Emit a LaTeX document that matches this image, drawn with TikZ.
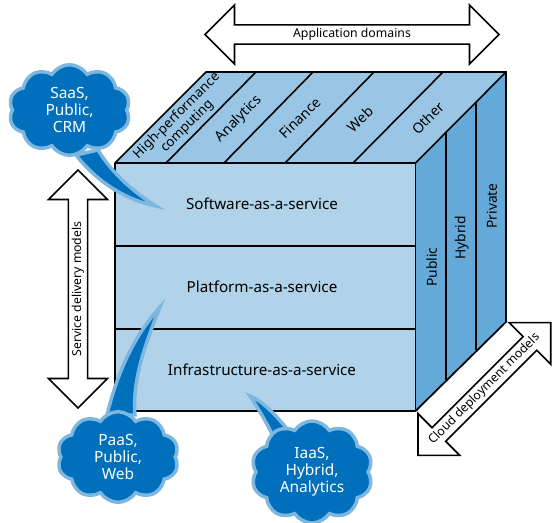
\documentclass[tikz,border=0pt]{standalone}
\usepackage{fontspec}
\setmainfont{Noto Sans}
\usetikzlibrary{shapes.arrows,shapes.symbols}
\definecolor{frontblue}{HTML}{B0D3EA}
\definecolor{topblue}{HTML}{9AC6E5}
\definecolor{sideblue}{HTML}{65A9D8}
\definecolor{clouddark}{HTML}{0070BC}
\definecolor{cloudlight}{HTML}{7DB7DF}
\begin{document}
\begin{tikzpicture}[
    x=0.75pt, y=-0.75pt,
    face/.style={draw=black, line width=1.3pt, line join=miter},
    divider/.style={draw=black, line width=1.2pt},
    label/.style={font=\fontsize{11.4}{13}\selectfont, inner sep=0pt, align=center},
    toplabel/.style={font=\fontsize{10.6}{11}\selectfont, inner sep=0pt, align=center, rotate=45},
    sidelabel/.style={font=\fontsize{10.4}{12}\selectfont, inner sep=0pt, rotate=90},
    bigarrow/.style={double arrow, draw=black, fill=white, line width=1.2pt, double arrow head extend=12.75pt, minimum width=44.25pt, inner sep=1pt, font=\fontsize{9.2}{11}\selectfont},
    puff/.style={cloud, cloud puffs=10, cloud puff arc=115, draw=cloudlight, fill=clouddark, line width=2.6pt, text=white, align=center, inner sep=0pt, minimum width=91pt, minimum height=68pt, font=\fontsize{11.6}{12.9}\selectfont},
    tail/.style={draw=cloudlight, fill=clouddark, line width=2.6pt, miter limit=20}
]
\useasboundingbox (0,0) rectangle (559,522);

% cube
\coordinate (FL) at (115,163);
\coordinate (FR) at (415.5,163);
\coordinate (BL) at (115,411);
\coordinate (BR) at (415.5,411);
\coordinate (TL) at (206,72);
\coordinate (TR) at (506,72);
\coordinate (SB) at (506,322);

\fill[frontblue] (FL) -- (FR) -- (BR) -- (BL) -- cycle;
\fill[topblue] (FL) -- (TL) -- (TR) -- (FR) -- cycle;
\fill[sideblue] (FR) -- (TR) -- (SB) -- (BR) -- cycle;

\coordinate (L1) at (115,246);
\coordinate (R1) at (415.5,246);
\coordinate (L2) at (115,329);
\coordinate (R2) at (415.5,329);
\draw[divider] (L1) -- (R1);
\draw[divider] (L2) -- (R2);

% top strips
\foreach \name/\a/\b in {a/166/256, b/224/313, c/285/374, d/353/443} {
    \coordinate (\name0) at (\a,163);
    \coordinate (\name1) at (\b,72);
    \draw[divider] (\name0) -- (\name1);
}

% side strips
\coordinate (P0) at (445.7,133);
\coordinate (P1) at (445.7,380);
\coordinate (Q0) at (475.7,103);
\coordinate (Q1) at (475.7,350);
\draw[divider] (P0) -- (P1);
\draw[divider] (Q0) -- (Q1);

\draw[face] (BL) -- (FL) -- (TL) -- (TR) -- (SB) -- (BR) -- cycle;
\draw[divider] (FL) -- (FR) -- (TR);
\draw[divider] (FR) -- (BR);

\node[label] (soft) at (262,204) {Software-as-a-service};
\node[label] (plat) at (262,287) {Platform-as-a-service};
\node[label] (infra) at (262,370) {Infrastructure-as-a-service};

\node[toplabel, font=\fontsize{10}{11}\selectfont] (hpc) at (182,121) {High-performance\\computing};
\node[toplabel] (anal) at (239,119) {Analytics};
\node[toplabel] (fin) at (300,118) {Finance};
\node[toplabel] (web) at (360,119) {Web};
\node[toplabel] (oth) at (428,118) {Other};

\node[sidelabel] (pub) at (431.7,267) {Public};
\node[sidelabel] (hyb) at (461.7,238) {Hybrid};
\node[sidelabel] (pri) at (491.7,206) {Private};

% big arrows
\node[bigarrow, minimum height=220.5pt] (apps) at (352,34.5) {Application domains};
\node[bigarrow, minimum height=178.5pt, rotate=90] (models) at (78,289) {Service delivery models};
\node[bigarrow, minimum height=140.8pt, rotate=45] (deploy) at (484.4,389) {Cloud deployment models};

% callouts
\coordinate (tip1) at (156,206);
\coordinate (tip2) at (160,307);
\coordinate (tip3) at (250,396);

\draw[tail] (76,155) .. controls (95,180) and (125,200) .. (tip1) .. controls (130,190) and (110,170) .. (98,150) -- cycle;
\draw[tail] (107,415) .. controls (118,370) and (135,335) .. (tip2) .. controls (145,345) and (132,380) .. (135,415) -- cycle;
\draw[tail] (276,442) .. controls (268,425) and (258,408) .. (tip3) .. controls (265,402) and (280,420) .. (293,436) -- cycle;

\node[puff] (saas) at (69.5,110) {SaaS,\\Public,\\CRM};
\node[puff] (paas) at (118,457) {PaaS,\\Public,\\Web};
\node[puff] (iaas) at (312,472) {IaaS,\\Hybrid,\\Analytics};
\end{tikzpicture}
\end{document}
